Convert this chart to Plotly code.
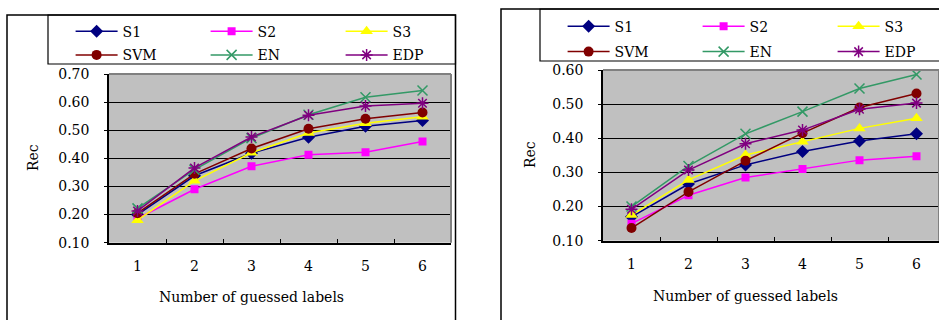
import plotly.graph_objects as go

W, H = 939, 320

CATEGORIES = ["1", "2", "3", "4", "5", "6"]
SERIES = ["S1", "S2", "S3", "SVM", "EN", "EDP"]

# Left panel values (Rec)
LEFT_S1 = [0.200, 0.338, 0.418, 0.475, 0.514, 0.535]
LEFT_S2 = [0.186, 0.290, 0.372, 0.413, 0.422, 0.460]
LEFT_S3 = [0.180, 0.320, 0.420, 0.490, 0.525, 0.548]
LEFT_SVM = [0.205, 0.345, 0.435, 0.505, 0.541, 0.563]
LEFT_EN = [0.222, 0.360, 0.472, 0.555, 0.617, 0.641]
LEFT_EDP = [0.213, 0.366, 0.476, 0.553, 0.586, 0.596]

# Right panel values (Rec)
RIGHT_S1 = [0.170, 0.266, 0.322, 0.361, 0.392, 0.413]
RIGHT_S2 = [0.150, 0.233, 0.285, 0.310, 0.336, 0.347]
RIGHT_S3 = [0.175, 0.278, 0.351, 0.390, 0.429, 0.459]
RIGHT_SVM = [0.137, 0.243, 0.334, 0.415, 0.490, 0.531]
RIGHT_EN = [0.200, 0.319, 0.413, 0.478, 0.546, 0.587]
RIGHT_EDP = [0.192, 0.307, 0.384, 0.424, 0.485, 0.503]

LEFT_Y_TICKS = [0.10, 0.20, 0.30, 0.40, 0.50, 0.60, 0.70]
RIGHT_Y_TICKS = [0.10, 0.20, 0.30, 0.40, 0.50, 0.60]

Y_TITLE = "Rec"
X_TITLE = "Number of guessed labels"

FONT = "DejaVu Serif"
FS = 14

STYLE = {
    "S1": dict(color="#000080", symbol="diamond", size=10, open=False),
    "S2": dict(color="#FF00FF", symbol="square", size=8, open=False),
    "S3": dict(color="#FFFF00", symbol="triangle-up", size=11, open=False),
    "SVM": dict(color="#800000", symbol="circle", size=10, open=False),
    "EN": dict(color="#339966", symbol="x-thin-open", size=10, open=True),
    "EDP": dict(color="#800080", symbol="asterisk-open", size=10, open=True),
}

left_vals = [LEFT_S1, LEFT_S2, LEFT_S3, LEFT_SVM, LEFT_EN, LEFT_EDP]
right_vals = [RIGHT_S1, RIGHT_S2, RIGHT_S3, RIGHT_SVM, RIGHT_EN, RIGHT_EDP]


def px_x(p):
    return p / W


def px_y(p):
    return 1 - p / H


fig = go.Figure()

for panel, vals, xa, ya, legs in [
    ("L", left_vals, "x", "y", ("legend", "legend2")),
    ("R", right_vals, "x2", "y2", ("legend3", "legend4")),
]:
    for i, (name, v) in enumerate(zip(SERIES, vals)):
        st = STYLE[name]
        if st["open"]:
            marker = dict(symbol=st["symbol"], size=st["size"], color=st["color"],
                          line=dict(color=st["color"], width=1.5))
        else:
            marker = dict(symbol=st["symbol"], size=st["size"], color=st["color"],
                          line=dict(width=0))
        fig.add_trace(go.Scatter(
            x=CATEGORIES, y=v, name=name, mode="lines+markers",
            line=dict(color=st["color"], width=1.5),
            marker=marker, xaxis=xa, yaxis=ya,
            legend=legs[0] if i < 3 else legs[1],
            hoverinfo="skip",
        ))

axis_font = dict(family=FONT, size=FS, color="black")

common_x = dict(type="category", ticks="inside", tickson="boundaries", ticklen=4,
                tickcolor="black", tickwidth=1, showline=True, linecolor="black",
                linewidth=1.5, showgrid=False, tickfont=axis_font, fixedrange=True,
                ticklabelstandoff=10, automargin=False)
common_y = dict(ticks="outside", ticklen=3, tickcolor="black", showline=True,
                linecolor="black", linewidth=1.5, showgrid=True, gridcolor="black",
                gridwidth=1, tickformat=".2f", tickfont=axis_font, fixedrange=True,
                zeroline=False, ticklabelstandoff=12, automargin=False)

fig.update_layout(
    width=W, height=H, autosize=False,
    margin=dict(l=0, r=0, t=0, b=0, pad=0, autoexpand=False),
    paper_bgcolor="white", plot_bgcolor="#C0C0C0",
    showlegend=True,
    xaxis=dict(common_x, domain=[px_x(109), px_x(451)], range=[-0.5, 5.5], anchor="y"),
    yaxis=dict(common_y, domain=[px_y(242.7), px_y(74)], range=[0.1, 0.7],
               tickvals=LEFT_Y_TICKS, anchor="x"),
    xaxis2=dict(common_x, domain=[px_x(603), 1.0], range=[-0.5, 5.5 - 6 / 57], anchor="y2"),
    yaxis2=dict(common_y, domain=[px_y(240.7), px_y(70)], range=[0.1, 0.6],
                tickvals=RIGHT_Y_TICKS, anchor="x2"),
)

leg_common = dict(orientation="h", xanchor="left", yanchor="top", bgcolor="rgba(0,0,0,0)",
                  borderwidth=0, font=dict(family=FONT, size=FS, color="black"),
                  itemwidth=42, entrywidth=78, entrywidthmode="pixels",
                  itemclick=False, itemdoubleclick=False, tracegroupgap=0)
fig.update_layout(
    legend=dict(leg_common, x=px_x(70.6), y=px_y(15.7)),
    legend2=dict(leg_common, x=px_x(70.6), y=px_y(39.3)),
    legend3=dict(leg_common, x=px_x(562.6), y=px_y(10.7)),
    legend4=dict(leg_common, x=px_x(562.6), y=px_y(36)),
)

shapes = []
# outer panel frames
shapes.append(dict(type="rect", xref="paper", yref="paper", x0=px_x(7), x1=px_x(455.5),
                   y0=-0.2, y1=px_y(15), line=dict(color="black", width=1.5), layer="above"))
shapes.append(dict(type="rect", xref="paper", yref="paper", x0=px_x(501), x1=1.2,
                   y0=-0.2, y1=px_y(9), line=dict(color="black", width=1.5), layer="above"))
# legend boxes
shapes.append(dict(type="rect", xref="paper", yref="paper", x0=px_x(48), x1=px_x(455.5),
                   y0=px_y(64), y1=px_y(15), line=dict(color="black", width=1.2), layer="above"))
shapes.append(dict(type="rect", xref="paper", yref="paper", x0=px_x(540), x1=1.2,
                   y0=px_y(61), y1=px_y(9), line=dict(color="black", width=1.2), layer="above"))
# gray top/right plot borders
for xr, yr in [("x", "y"), ("x2", "y2")]:
    shapes.append(dict(type="line", xref=f"{xr} domain", yref=f"{yr} domain",
                       x0=0, x1=1, y0=1, y1=1, line=dict(color="#808080", width=2),
                       layer="above"))
    shapes.append(dict(type="line", xref=f"{xr} domain", yref=f"{yr} domain",
                       x0=1, x1=1, y0=0, y1=1, line=dict(color="#808080", width=2),
                       layer="above"))
fig.update_layout(shapes=shapes)

ann_font = dict(family=FONT, size=FS, color="black")
fig.update_layout(annotations=[
    dict(text=Y_TITLE, x=px_x(33), y=px_y(158), xref="paper", yref="paper",
         textangle=-90, showarrow=False, font=ann_font, xanchor="center", yanchor="middle"),
    dict(text=X_TITLE, x=px_x(251), y=px_y(297), xref="paper", yref="paper",
         showarrow=False, font=ann_font, xanchor="center", yanchor="middle"),
    dict(text=Y_TITLE, x=px_x(530), y=px_y(155), xref="paper", yref="paper",
         textangle=-90, showarrow=False, font=ann_font, xanchor="center", yanchor="middle"),
    dict(text=X_TITLE, x=px_x(745), y=px_y(296), xref="paper", yref="paper",
         showarrow=False, font=ann_font, xanchor="center", yanchor="middle"),
])

fig.write_html("out.html", config={"displayModeBar": False})

# remove the default page margin so the figure sits at the window origin
with open("out.html", "r", encoding="utf-8") as f:
    html = f.read()
html = html.replace("<body>", '<body style="margin:0;padding:0;overflow:hidden">', 1)
with open("out.html", "w", encoding="utf-8") as f:
    f.write(html)
